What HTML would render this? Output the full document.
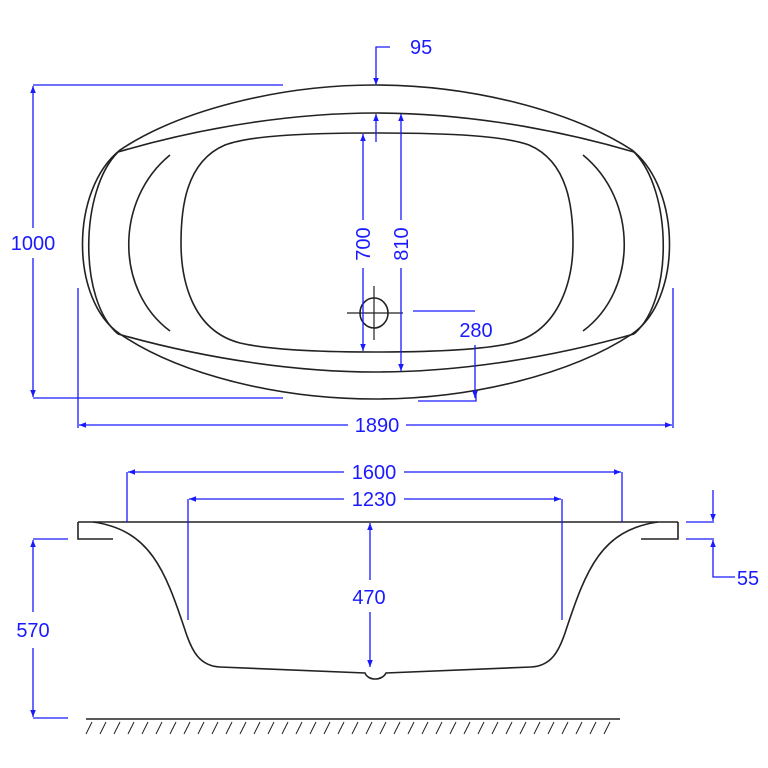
<!DOCTYPE html>
<html><head><meta charset="utf-8"><style>
html,body{margin:0;padding:0;background:#fff;}
svg{display:block}
text{font-family:"Liberation Sans Narrow","Liberation Sans",sans-serif;fill:#1a1aff;font-size:20px;}
</style></head><body>
<svg width="768" height="768" viewBox="0 0 768 768" xmlns="http://www.w3.org/2000/svg">
<defs>
<marker id="a" viewBox="0 0 10 10" refX="10" refY="5" markerWidth="14" markerHeight="7" markerUnits="userSpaceOnUse" orient="auto-start-reverse"><path d="M0,1 L10,5 L0,9 z" fill="#1a1aff"/></marker>
</defs>
<g fill="none" stroke="#222" stroke-width="1.6">
<!-- outer -->
<path d="M375,85 C280,85 180,110 120,150 C70,190 70,300 120,334 C180,375 280,399 375,399 C470,399 570,375 632,334 C682,300 682,190 632,150 C570,110 470,85 375,85 Z"/>
<path d="M118,152 C80,190 78,300 118,334"/>
<path d="M634,152 C672,190 674,300 634,334"/>
<!-- rim lines -->
<path d="M118,152 C210,125 300,113 376,113 C452,113 542,125 634,152"/>
<path d="M118,334 C210,360 300,372 376,372 C452,372 542,360 634,334"/>
<!-- arcs -->
<path d="M170,155 C115,200 115,290 170,331"/>
<path d="M583,155 C638,200 638,290 583,331"/>
<!-- basin -->
<path d="M376,133 C300,133 250,136 225,145 C185,162 181,210 181,243 C181,276 190,330 240,343 C270,350 320,352 376,352 C432,352 482,350 512,343 C562,330 573,276 573,243 C573,210 569,162 529,145 C504,136 452,133 376,133 Z"/>
<!-- drain -->
<ellipse cx="374" cy="313" rx="14" ry="15"/>
<line x1="347" y1="313" x2="403" y2="313" stroke-width="1.2"/>
<line x1="374" y1="286" x2="374" y2="340" stroke-width="1.2"/>
<!-- side view -->
<line x1="78" y1="522" x2="678" y2="522"/>
<path d="M78,522 L78,539 L113,539"/>
<path d="M678,522 L678,539 L641,539"/>
<path d="M93,522 C150,530 165,570 185,630 C192,652 200,666 220,667 L365,673 C368,681 382,681 386,673 L531,667 C551,666 559,652 566,630 C586,570 601,530 658,522"/>
<line x1="86" y1="719" x2="620" y2="719"/>
</g>
<g stroke="#222" stroke-width="1">
<path d="M92,722 l-6,12 M106,722 l-6,12 M120,722 l-6,12 M134,722 l-6,12 M148,722 l-6,12 M162,722 l-6,12 M176,722 l-6,12 M190,722 l-6,12 M204,722 l-6,12 M218,722 l-6,12 M232,722 l-6,12 M246,722 l-6,12 M260,722 l-6,12 M274,722 l-6,12 M288,722 l-6,12 M302,722 l-6,12 M316,722 l-6,12 M330,722 l-6,12 M344,722 l-6,12 M358,722 l-6,12 M372,722 l-6,12 M386,722 l-6,12 M400,722 l-6,12 M414,722 l-6,12 M428,722 l-6,12 M442,722 l-6,12 M456,722 l-6,12 M470,722 l-6,12 M484,722 l-6,12 M498,722 l-6,12 M512,722 l-6,12 M526,722 l-6,12 M540,722 l-6,12 M554,722 l-6,12 M568,722 l-6,12 M582,722 l-6,12 M596,722 l-6,12 M610,722 l-6,12"/>
</g>
<g fill="none" stroke="#1a1aff" stroke-width="1.3">
<!-- 1000 -->
<line x1="33" y1="85" x2="283" y2="85"/><line x1="33" y1="398" x2="283" y2="398"/>
<line x1="33" y1="228" x2="33" y2="86" marker-end="url(#a)"/><line x1="33" y1="258" x2="33" y2="397" marker-end="url(#a)"/>
<!-- 1890 -->
<line x1="78" y1="288" x2="78" y2="428"/><line x1="673" y1="288" x2="673" y2="428"/>
<line x1="348" y1="425" x2="79" y2="425" marker-end="url(#a)"/><line x1="406" y1="425" x2="672" y2="425" marker-end="url(#a)"/>
<!-- 95 -->
<polyline points="390,47 376,47 376,85" marker-end="url(#a)"/>
<line x1="376" y1="142" x2="376" y2="114" marker-end="url(#a)"/>
<!-- 700 -->
<line x1="363" y1="220" x2="363" y2="134" marker-end="url(#a)"/><line x1="363" y1="268" x2="363" y2="351" marker-end="url(#a)"/>
<!-- 810 -->
<line x1="401" y1="220" x2="401" y2="114" marker-end="url(#a)"/><line x1="401" y1="268" x2="401" y2="371" marker-end="url(#a)"/>
<!-- 280 -->
<line x1="413" y1="311" x2="475" y2="311"/>
<line x1="475" y1="345" x2="475" y2="398" marker-end="url(#a)"/>
<polyline points="418,401 476,401 476,392"/>
<!-- 1600 -->
<line x1="127" y1="472" x2="127" y2="522"/><line x1="622" y1="472" x2="622" y2="522"/>
<line x1="344" y1="472" x2="128" y2="472" marker-end="url(#a)"/><line x1="404" y1="472" x2="621" y2="472" marker-end="url(#a)"/>
<!-- 1230 -->
<line x1="188" y1="499" x2="188" y2="620"/><line x1="562" y1="499" x2="562" y2="620"/>
<line x1="344" y1="499" x2="189" y2="499" marker-end="url(#a)"/><line x1="404" y1="499" x2="561" y2="499" marker-end="url(#a)"/>
<!-- 470 -->
<line x1="370" y1="580" x2="370" y2="523" marker-end="url(#a)"/><line x1="370" y1="612" x2="370" y2="667" marker-end="url(#a)"/>
<!-- 570 -->
<line x1="68" y1="539" x2="33" y2="539"/><line x1="68" y1="718" x2="33" y2="718"/>
<line x1="33" y1="612" x2="33" y2="540" marker-end="url(#a)"/><line x1="33" y1="648" x2="33" y2="717" marker-end="url(#a)"/>
<!-- 55 -->
<line x1="686" y1="522" x2="714" y2="522"/><line x1="686" y1="539" x2="714" y2="539"/>
<line x1="713" y1="490" x2="713" y2="521" marker-end="url(#a)"/>
<polyline points="735,577 713,577 713,540" marker-end="url(#a)"/>
</g>
<text x="410" y="54">95</text>
<text x="33" y="250" text-anchor="middle">1000</text>
<text x="377" y="432" text-anchor="middle">1890</text>
<text x="476" y="337" text-anchor="middle">280</text>
<text transform="translate(370,244) rotate(-90)" text-anchor="middle">700</text>
<text transform="translate(408,244) rotate(-90)" text-anchor="middle">810</text>
<text x="374" y="479" text-anchor="middle">1600</text>
<text x="374" y="506" text-anchor="middle">1230</text>
<text x="369" y="604" text-anchor="middle">470</text>
<text x="33" y="637" text-anchor="middle">570</text>
<text x="748" y="585" text-anchor="middle">55</text>
</svg>
</body></html>
